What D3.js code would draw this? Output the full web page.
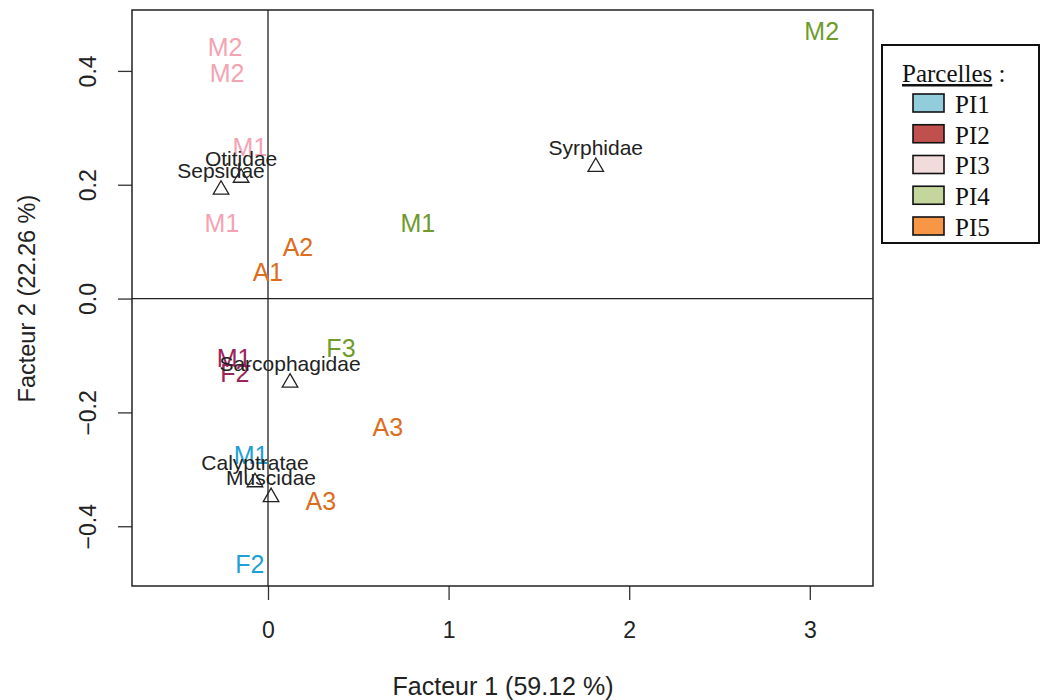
<!DOCTYPE html>
<html>
<head>
<meta charset="utf-8">
<script src="https://cdn.jsdelivr.net/npm/d3@7"></script>
<style>
  html, body { margin: 0; padding: 0; background: #fff; }
  svg { display: block; }
</style>
</head>
<body>
<svg id="chart" width="1042" height="700"></svg>
<script>
// Sample scores on the first two factors (label, parcel, F1, F2)
const sampleLabels  = ["M2", "M2", "M1", "M1", "M2", "M1", "A2", "A1", "F3", "M1", "F2", "A3", "M1", "A3", "F2"];
const sampleParcels = ["PI3", "PI3", "PI3", "PI3", "PI4", "PI4", "PI5", "PI5", "PI4", "PI2", "PI2", "PI5", "PI1", "PI5", "PI1"];
const sampleF1 = [-0.238, -0.227, -0.100, -0.255, 3.066, 0.830, 0.166, 0.000, 0.404, -0.188, -0.183, 0.664, -0.094, 0.293, -0.100];
const sampleF2 = [0.442, 0.396, 0.267, 0.132, 0.470, 0.132, 0.091, 0.046, -0.086, -0.104, -0.130, -0.225, -0.275, -0.356, -0.467];

// Family scores (shown as triangles)
const familyNames = ["Syrphidae", "Otitidae", "Sepsidae", "Sarcophagidae", "Calyptratae", "Muscidae"];
const familyF1 = [1.815, -0.149, -0.260, 0.122, -0.072, 0.017];
const familyF2 = [0.233, 0.214, 0.193, -0.146, -0.321, -0.347];

// Axes
const xTicks = [0, 1, 2, 3];
const yTicks = [-0.4, -0.2, 0.0, 0.2, 0.4];
const xTitle = "Facteur 1 (59.12 %)";
const yTitle = "Facteur 2 (22.26 %)";

// Legend
const legendTitle = "Parcelles :";
const parcels = ["PI1", "PI2", "PI3", "PI4", "PI5"];
const parcelFill = ["#92cddc", "#c0504d", "#f2dcdb", "#c3d69b", "#f79646"];
const parcelText = ["#1f9fd6", "#9c2459", "#f4a3b3", "#6e9b2c", "#dc6d1c"];

const svg = d3.select("#chart");
const plot = { left: 132, right: 873, top: 10, bottom: 586 };

const x = d3.scaleLinear().domain([-0.753, 3.35]).range([plot.left, plot.right]);
const y = d3.scaleLinear().domain([-0.505, 0.507]).range([plot.bottom, plot.top]);

const sans = "'Liberation Sans', Arial, sans-serif";
const serif = "'Liberation Serif', 'Times New Roman', serif";

// Axes (R-style ticks)
const xAxis = d3.axisBottom(x).tickValues(xTicks).tickFormat(d3.format("d")).tickSize(14).tickSizeOuter(0);
const gx = svg.append("g").attr("transform", `translate(0,${plot.bottom})`).call(xAxis);
gx.select(".domain").remove();
gx.selectAll("line").attr("stroke", "#333").attr("stroke-width", 1.3);
gx.selectAll("text").attr("font-family", sans).attr("font-size", 23).attr("fill", "#222")
  .attr("y", 44).attr("dy", "0.36em");

const yAxis = d3.axisLeft(y).tickValues(yTicks).tickFormat(d => d3.format(".1f")(d).replace("-", "\u2212")).tickSize(14).tickSizeOuter(0);
const gy = svg.append("g").attr("transform", `translate(${plot.left},0)`).call(yAxis);
gy.select(".domain").remove();
gy.selectAll("line").attr("stroke", "#333").attr("stroke-width", 1.3);
gy.selectAll("text")
  .attr("font-family", sans).attr("font-size", 23).attr("fill", "#222")
  .attr("x", 0).attr("y", 0)
  .attr("text-anchor", "middle")
  .attr("transform", "translate(-44,0) rotate(-90)")
  .attr("dy", "0.36em");

// Axis titles
svg.append("text").attr("x", 503).attr("y", 686)
  .attr("dy", "0.36em")
  .attr("text-anchor", "middle").attr("font-family", sans).attr("font-size", 25).attr("fill", "#222")
  .text(xTitle);
svg.append("text").attr("transform", `translate(27,${y(0)}) rotate(-90)`)
  .attr("dy", "0.36em")
  .attr("text-anchor", "middle").attr("font-family", sans).attr("font-size", 23.5).attr("fill", "#222")
  .text(yTitle);

// Plot box
svg.append("rect").attr("x", plot.left).attr("y", plot.top)
  .attr("width", plot.right - plot.left).attr("height", plot.bottom - plot.top)
  .attr("fill", "none").attr("stroke", "#222").attr("stroke-width", 1.5);

// Origin lines
svg.append("line").attr("x1", x(0)).attr("x2", x(0)).attr("y1", plot.top).attr("y2", plot.bottom)
  .attr("stroke", "#222").attr("stroke-width", 1.3);
svg.append("line").attr("x1", plot.left).attr("x2", plot.right).attr("y1", y(0)).attr("y2", y(0))
  .attr("stroke", "#222").attr("stroke-width", 1.3);

// Sample labels
const colorOf = d3.scaleOrdinal().domain(parcels).range(parcelText);
svg.append("g").selectAll("text")
  .data(sampleLabels.map((l, i) => ({ l, p: sampleParcels[i], f1: sampleF1[i], f2: sampleF2[i] })))
  .join("text")
  .attr("x", d => x(d.f1)).attr("y", d => y(d.f2))
  .attr("dy", "0.36em")
  .attr("text-anchor", "middle")
  .attr("font-family", sans).attr("font-size", 25)
  .attr("fill", d => colorOf(d.p))
  .text(d => d.l);

// Family triangles and labels
const fam = familyNames.map((n, i) => ({ n, f1: familyF1[i], f2: familyF2[i] }));
const tri = d3.symbol().type(d3.symbolTriangle).size(105);
const gf = svg.append("g");
gf.selectAll("path").data(fam).join("path")
  .attr("d", tri)
  .attr("transform", d => `translate(${x(d.f1)},${y(d.f2) + 1})`)
  .attr("fill", "none").attr("stroke", "#222").attr("stroke-width", 1.3);
gf.selectAll("text").data(fam).join("text")
  .attr("x", d => x(d.f1)).attr("y", d => y(d.f2) - 11)
  .attr("text-anchor", "middle")
  .attr("font-family", sans).attr("font-size", 21).attr("fill", "#222")
  .text(d => d.n);

// Legend
const lg = svg.append("g");
lg.append("rect").attr("x", 882).attr("y", 45).attr("width", 157).attr("height", 198)
  .attr("fill", "#fff").attr("stroke", "#111").attr("stroke-width", 2);
const title = lg.append("text").attr("x", 902).attr("y", 82)
  .attr("font-family", serif).attr("font-size", 25).attr("fill", "#111");
title.append("tspan").attr("text-decoration", "underline").text(legendTitle.replace(" :", ""));
title.append("tspan").text(" :");
const rowY = d3.scalePoint().domain(parcels).range([103, 226]);
const rows = lg.selectAll("g.row").data(parcels).join("g").attr("class", "row")
  .attr("transform", d => `translate(0,${rowY(d)})`);
rows.append("rect").attr("x", 913).attr("y", -9).attr("width", 31).attr("height", 18)
  .attr("fill", (d, i) => parcelFill[i]).attr("stroke", "#111").attr("stroke-width", 1.6);
rows.append("text").attr("x", 955).attr("y", 1).attr("dy", "0.35em")
  .attr("font-family", serif).attr("font-size", 25).attr("fill", "#111")
  .text(d => d);
</script>
</body>
</html>
